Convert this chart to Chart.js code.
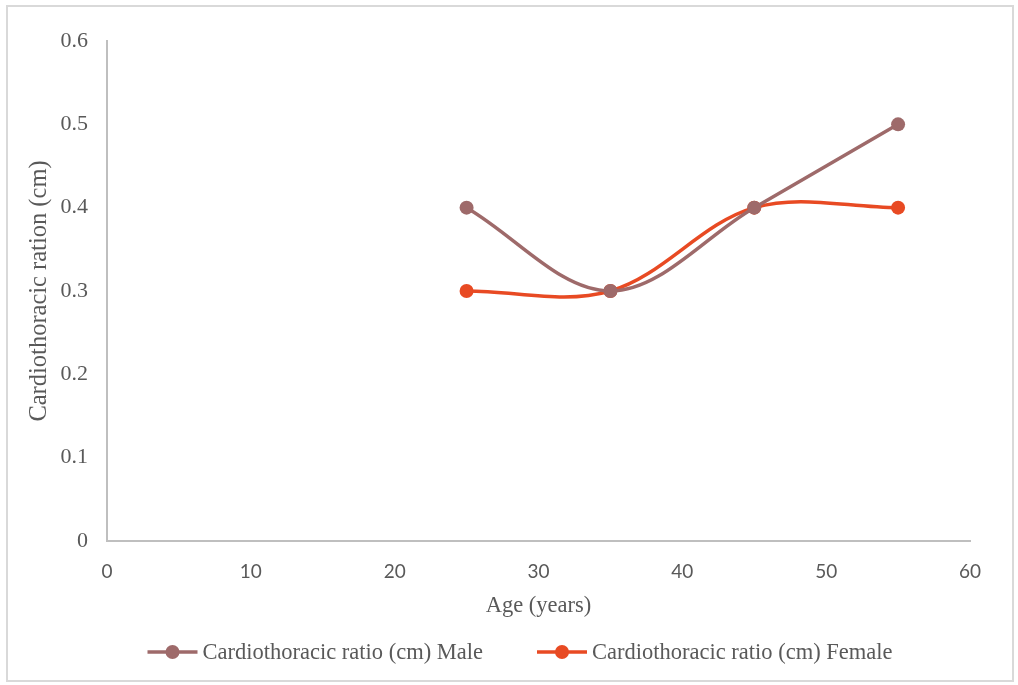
<!DOCTYPE html>
<html>
<head>
<meta charset="utf-8">
<script src="https://cdn.jsdelivr.net/npm/chart.js@4.4.1/dist/chart.umd.min.js"></script>
<style>
  html, body { margin: 0; padding: 0; background: #ffffff; }
  #wrap { position: relative; width: 1018px; height: 685px; }
  #frame { position: absolute; left: 6px; top: 5px; width: 1004px; height: 673px;
           border: 2px solid #d9d9d9; pointer-events: none; }
  canvas { position: absolute; left: 0; top: 0; }
</style>
</head>
<body>
<div id="wrap">
  <canvas id="chart" width="1018" height="685"></canvas>
  <div id="frame"></div>
</div>
<script>
// Age groups (years) and cardiothoracic ratio by sex
const ages = [25, 35, 45, 55];
const maleRatio = [0.4, 0.3, 0.4, 0.5];
const femaleRatio = [0.3, 0.3, 0.4, 0.4];
const seriesNames = ['Cardiothoracic ratio (cm) Male', 'Cardiothoracic ratio (cm) Female'];
const xTitle = 'Age (years)';
const yTitle = 'Cardiothoracic ration (cm)';

const maleColor = '#9e6a6a';
const femaleColor = '#e84a23';
const textColor = '#595959';
const axisColor = '#bfbfbf';
const serif = '"Liberation Serif", "Times New Roman", serif';
const sans = 'Lato, "Open Sans", sans-serif';

const toPoints = (xs, ys) => xs.map((x, i) => ({ x: x, y: ys[i] }));

// Legend drawn below the plot: short line with a dot, then the series name
const lineLegend = {
  id: 'lineLegend',
  afterDraw(chart) {
    const ctx = chart.ctx;
    const items = chart.data.datasets;
    ctx.save();
    ctx.font = '22.5px ' + serif;
    const swatch = 50, gap = 5, between = 54;
    const widths = items.map(d => swatch + gap + ctx.measureText(d.label).width);
    const total = widths.reduce((a, b) => a + b, 0) + between * (items.length - 1);
    let x = 520 - total / 2;
    const y = 652;
    items.forEach((d, i) => {
      ctx.strokeStyle = d.borderColor;
      ctx.lineWidth = 3.5;
      ctx.beginPath();
      ctx.moveTo(x, y);
      ctx.lineTo(x + swatch, y);
      ctx.stroke();
      ctx.fillStyle = d.pointBackgroundColor;
      ctx.beginPath();
      ctx.arc(x + swatch / 2, y, 7, 0, Math.PI * 2);
      ctx.fill();
      ctx.fillStyle = textColor;
      ctx.textBaseline = 'middle';
      ctx.textAlign = 'left';
      ctx.fillText(d.label, x + swatch + gap, y + 1);
      x += widths[i] + between;
    });
    ctx.restore();
  }
};

new Chart(document.getElementById('chart'), {
  type: 'line',
  data: {
    datasets: [
      {
        label: seriesNames[0],
        data: toPoints(ages, maleRatio),
        borderColor: maleColor,
        backgroundColor: maleColor,
        pointBackgroundColor: maleColor,
        pointBorderColor: maleColor,
        borderWidth: 3.5,
        pointRadius: 7,
        pointBorderWidth: 0,
        tension: 0.35,
        fill: false
      },
      {
        label: seriesNames[1],
        data: toPoints(ages, femaleRatio),
        borderColor: femaleColor,
        backgroundColor: femaleColor,
        pointBackgroundColor: femaleColor,
        pointBorderColor: femaleColor,
        borderWidth: 3.5,
        pointRadius: 7,
        pointBorderWidth: 0,
        tension: 0.35,
        fill: false
      }
    ]
  },
  options: {
    responsive: false,
    animation: false,
    devicePixelRatio: 1,
    layout: { padding: { top: 41, right: 48, bottom: 64, left: 0 } },
    plugins: {
      legend: { display: false },
      tooltip: { enabled: false }
    },
    scales: {
      x: {
        type: 'linear',
        min: 0,
        max: 60,
        afterFit(scale) { scale.height = 80; },
        ticks: { stepSize: 10, color: textColor, font: { family: sans, size: 19 }, padding: 19, maxRotation: 0 },
        grid: { display: false, drawTicks: false },
        border: { display: true, color: axisColor, width: 2 },
        title: { display: true, text: xTitle, color: textColor, font: { family: serif, size: 22.5 }, padding: { top: 0, bottom: 1 } }
      },
      y: {
        min: 0,
        max: 0.6,
        afterFit(scale) { scale.width = 107; },
        ticks: { stepSize: 0.1, color: textColor, font: { family: serif, size: 22 }, padding: 19 },
        grid: { display: false, drawTicks: false },
        border: { display: true, color: axisColor, width: 2 },
        title: { display: true, text: yTitle, color: textColor, font: { family: serif, size: 24.5 }, padding: { top: 25, bottom: 0 } }
      }
    }
  },
  plugins: [lineLegend]
});
</script>
</body>
</html>
